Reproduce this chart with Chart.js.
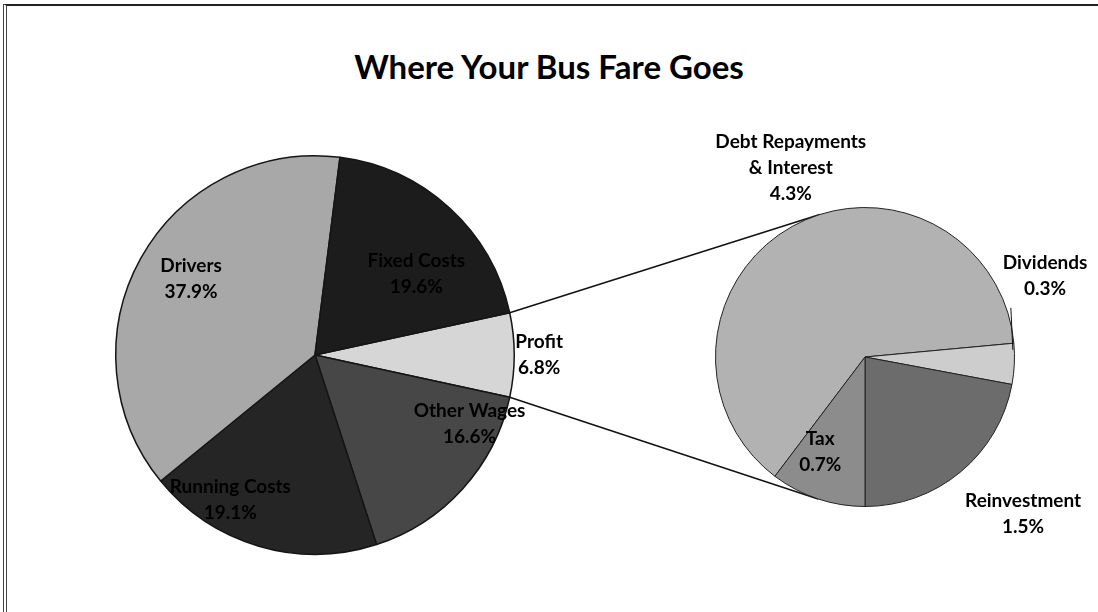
<!DOCTYPE html>
<html>
<head>
<meta charset="utf-8">
<script src="https://cdn.jsdelivr.net/npm/chart.js@4.4.0/dist/chart.umd.min.js"></script>
<style>
    body { margin: 0; background: #fff; }
    #wrap { position: relative; width: 1098px; height: 612px; overflow: hidden; }
    #frame { position: absolute; left: 3px; top: 4px; width: 1200px; height: 700px;
             border-left: 4px double #444; border-top: 2px solid #222; }
    #title { position: absolute; left: 0; width: 1098px; top: 46px; text-align: center;
             font: bold 33px Lato, sans-serif; color: #000; }
    canvas { position: absolute; left: 0; top: 0; }
</style>
</head>
<body>
<div id="wrap">
    <div id="frame"></div>
    <div id="title">Where Your Bus Fare Goes</div>
    <canvas id="mainPie" width="1098" height="612"></canvas>
    <canvas id="subPie" width="1098" height="612"></canvas>
</div>
<script>
// main pie, clockwise from the Profit slice
var mainCategories = ['Profit', 'Other Wages', 'Running Costs', 'Drivers', 'Fixed Costs'];
var mainValues = [6.8, 16.6, 19.1, 37.9, 19.6];
// where the profit goes
var subCategories = [['Debt Repayments', '& Interest'], ['Dividends'], ['Reinvestment'], ['Tax']];
var subValues = [4.3, 0.3, 1.5, 0.7];

var mainColors = ['#d6d6d6', '#474747', '#252525', '#a8a8a8', '#1c1c1c'];
var subColors = ['#b2b2b2', '#cdcdcd', '#6c6c6c', '#8c8c8c'];

// label placement: [fraction of radius, angle shift in degrees]
var mainPlace = [[1.125, 0], [0.85, -18], [0.84, 14], [0.73, 2.6], [0.65, 9]];
var subPlace = [[1.36, 7.7], [1.32, -26.8], [1.49, -5.5], [0.70, 6.8]];

var labelFont = 'bold 19px Lato';

function makeLabels(id, names, place) {
    return {
        id: id,
        afterDatasetsDraw: function (chart) {
            var ctx = chart.ctx;
            var arcs = chart.getDatasetMeta(0).data;
            var values = chart.data.datasets[0].data;
            ctx.save();
            ctx.font = labelFont;
            ctx.textAlign = 'center';
            ctx.textBaseline = 'middle';
            ctx.fillStyle = '#000';
            arcs.forEach(function (arc, i) {
                var mid = (arc.startAngle + arc.endAngle) / 2 + place[i][1] * Math.PI / 180;
                var r = arc.outerRadius * place[i][0];
                var x = arc.x + Math.cos(mid) * r;
                var y = arc.y + Math.sin(mid) * r;
                var lines = names[i].concat([values[i].toFixed(1) + '%']);
                var y0 = y - (lines.length - 1) * 13;
                lines.forEach(function (t, k) {
                    ctx.fillText(t, x, y0 + k * 26);
                });
            });
            ctx.restore();
        }
    };
}

var mainChart = new Chart(document.getElementById('mainPie').getContext('2d'), {
    type: 'pie',
    data: {
        labels: mainCategories,
        datasets: [{
            data: mainValues,
            backgroundColor: mainColors,
            borderColor: '#151515',
            borderWidth: 1.5
        }]
    },
    options: {
        responsive: false,
        animation: false,
        rotation: 90 - mainValues[0] * 1.8,
        layout: { padding: { left: 115, right: 583, top: 155, bottom: 57 } },
        plugins: {
            legend: { display: false },
            tooltip: { enabled: false }
        }
    },
    plugins: [makeLabels('mainLabels', mainCategories.map(function (c) { return [c]; }), mainPlace)]
});

var subTotal = subValues.reduce(function (a, b) { return a + b; }, 0);

// lines from the profit slice to the second pie, plus the dividends leader
var connectors = {
    id: 'connectors',
    beforeDatasetsDraw: function (chart) {
        var ctx = chart.ctx;
        var profit = mainChart.getDatasetMeta(0).data[0];
        var sub = chart.getDatasetMeta(0).data[0];
        var cx = sub.x, cy = sub.y, r = sub.outerRadius;
        ctx.save();
        ctx.strokeStyle = '#111';
        ctx.lineWidth = 1.5;
        [[profit.startAngle, -1], [profit.endAngle, 1]].forEach(function (e) {
            var px = profit.x + Math.cos(e[0]) * profit.outerRadius;
            var py = profit.y + Math.sin(e[0]) * profit.outerRadius;
            var d = Math.hypot(px - cx, py - cy);
            var base = Math.atan2(py - cy, px - cx);
            var off = Math.acos(r / d);
            var a = base + (e[1] < 0 ? off : -off);
            ctx.beginPath();
            ctx.moveTo(px, py);
            ctx.lineTo(cx + Math.cos(a) * r, cy + Math.sin(a) * r);
            ctx.stroke();
        });
        ctx.restore();
    },
    afterDatasetsDraw: function (chart) {
        var ctx = chart.ctx;
        var div = chart.getDatasetMeta(0).data[1];
        var mid = (div.startAngle + div.endAngle) / 2;
        var ex = div.x + Math.cos(mid) * div.outerRadius * 0.99;
        var ey = div.y + Math.sin(mid) * div.outerRadius * 0.99 - 14;
        ctx.save();
        ctx.strokeStyle = '#111';
        ctx.lineWidth = 1;
        ctx.beginPath();
        ctx.moveTo(ex, ey);
        ctx.lineTo(ex - 2, ey - 42);
        ctx.stroke();
        ctx.restore();
    }
};

var subChart = new Chart(document.getElementById('subPie').getContext('2d'), {
    type: 'pie',
    data: {
        labels: subCategories.map(function (c) { return c.join(' '); }),
        datasets: [{
            data: subValues,
            backgroundColor: subColors,
            borderColor: '#222',
            borderWidth: 1
        }]
    },
    options: {
        responsive: false,
        animation: false,
        rotation: 180 - (subValues[0] + subValues[1] + subValues[2]) / subTotal * 360,
        layout: { padding: { left: 715, right: 83, top: 207, bottom: 105 } },
        plugins: {
            legend: { display: false },
            tooltip: { enabled: false }
        }
    },
    plugins: [connectors, makeLabels('subLabels', subCategories, subPlace)]
});
</script>
</body>
</html>
